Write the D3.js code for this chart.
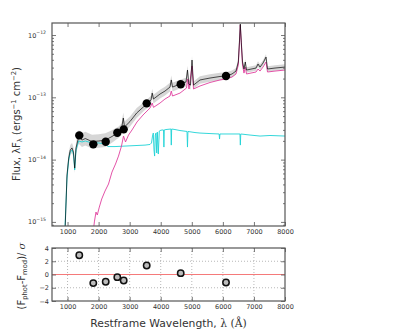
<!DOCTYPE html>
<html>
<head>
<meta charset="utf-8">
<script src="https://cdn.jsdelivr.net/npm/d3@7"></script>
<style>
  body { margin: 0; background: #fff; }
  text { font-family: "DejaVu Sans", sans-serif; fill: #333; }
</style>
</head>
<body>
<div id="sed"></div>
<script>
//Photometry (restframe wavelength in A, flux in erg/s/cm2) and residuals
var photWave = [1378, 1829, 2229, 2602, 2808, 3548, 4643, 6101];
var photFlux = [2.45e-14, 1.76e-14, 1.94e-14, 2.70e-14, 3.06e-14, 8.0e-14, 1.62e-13, 2.20e-13];
var photResid = [2.9, -1.3, -1.1, -0.4, -0.9, 1.35, 0.2, -1.2];

//Total model: [wavelength, flux, half width of the grey band in dex]
var modelTotal = [
  [915, 6e-16, 0.08], [983, 5.66e-15, 0.08], [1038, 1.06e-14, 0.08], [1089, 1.43e-14, 0.08],
  [1144, 1.54e-14, 0.08], [1192, 1.32e-14, 0.08], [1231, 7.3e-15, 0.08], [1273, 1.54e-14, 0.09],
  [1359, 2.31e-14, 0.11], [1466, 2.06e-14, 0.11], [1572, 2.18e-14, 0.11], [1788, 1.95e-14, 0.11],
  [2003, 1.99e-14, 0.11], [2216, 2.06e-14, 0.11], [2431, 2.35e-14, 0.1], [2647, 2.77e-14, 0.09],
  [2737, 3.10e-14, 0.09], [2795, 4.65e-14, 0.09], [2834, 3.34e-14, 0.09], [3011, 4.09e-14, 0.08],
  [3226, 5.60e-14, 0.08], [3439, 6.99e-14, 0.07], [3548, 7.80e-14, 0.07], [3687, 9.05e-14, 0.07],
  [3726, 1.17e-13, 0.07], [3767, 9.39e-14, 0.07], [3977, 1.13e-13, 0.07], [4137, 1.26e-13, 0.07],
  [4298, 1.46e-13, 0.07], [4340, 1.90e-13, 0.07], [4379, 1.46e-13, 0.07], [4620, 1.63e-13, 0.07],
  [4813, 1.76e-13, 0.07], [4862, 2.74e-13, 0.07], [4904, 1.63e-13, 0.07], [4958, 1.57e-13, 0.07],
  [5007, 3.97e-13, 0.07], [5055, 1.57e-13, 0.06], [5264, 1.90e-13, 0.06], [5586, 2.04e-13, 0.06],
  [5908, 2.16e-13, 0.06], [6101, 2.20e-13, 0.06], [6294, 2.37e-13, 0.055], [6423, 2.64e-13, 0.05],
  [6497, 3.69e-13, 0.05], [6536, 8.3e-13, 0.05], [6561, 1.50e-12, 0.05], [6594, 7.7e-13, 0.05],
  [6632, 3.69e-13, 0.05], [6680, 2.85e-13, 0.045], [6722, 3.69e-13, 0.045], [6761, 2.74e-13, 0.045],
  [7067, 2.95e-13, 0.045], [7131, 3.42e-13, 0.045], [7196, 3.06e-13, 0.045], [7292, 3.55e-13, 0.045],
  [7389, 4.43e-13, 0.045], [7437, 2.85e-13, 0.045], [7678, 2.95e-13, 0.045], [8000, 3.06e-13, 0.045]
];

//Host galaxy component
var modelHost = [
  [1840, 8.0e-16], [1868, 1.03e-15], [1916, 1.44e-15], [1958, 1.29e-15], [2023, 1.73e-15],
  [2100, 2.33e-15], [2206, 3.13e-15], [2319, 4.06e-15], [2431, 6.32e-15], [2544, 8.49e-15],
  [2641, 1.14e-14], [2737, 1.65e-14], [2802, 2.39e-14], [2866, 1.92e-14], [2963, 2.48e-14],
  [3075, 2.99e-14], [3236, 4.02e-14], [3429, 5.20e-14], [3655, 6.73e-14], [3726, 8.10e-14],
  [3767, 6.9e-14], [3977, 8.10e-14], [4137, 9.39e-14], [4298, 1.05e-13], [4340, 1.26e-13],
  [4379, 1.05e-13], [4620, 1.17e-13], [4830, 1.41e-13], [4862, 1.97e-13], [4910, 1.36e-13],
  [5007, 3.18e-13], [5055, 1.36e-13], [5264, 1.52e-13], [5586, 1.73e-13], [5908, 1.90e-13],
  [6101, 1.97e-13], [6294, 2.12e-13], [6423, 2.37e-13], [6497, 3.30e-13], [6536, 7.72e-13],
  [6561, 1.45e-12], [6594, 7.18e-13], [6632, 3.30e-13], [6680, 2.45e-13], [6722, 3.06e-13],
  [6761, 2.37e-13], [7067, 2.55e-13], [7131, 2.85e-13], [7196, 2.64e-13], [7292, 3.06e-13],
  [7389, 3.69e-13], [7437, 2.55e-13], [7678, 2.64e-13], [8000, 2.74e-13]
];

//Stellar / cyan component
var modelStar = [
  [918, 8e-16], [983, 5.07e-15], [1038, 9.86e-15], [1089, 1.32e-14], [1144, 1.43e-14],
  [1192, 1.23e-14], [1231, 6.81e-15], [1273, 1.43e-14], [1359, 1.99e-14], [1466, 1.92e-14],
  [1572, 1.99e-14], [1788, 1.85e-14], [2003, 1.85e-14], [2216, 1.78e-14], [2303, 1.62e-14],
  [2528, 1.62e-14], [2850, 1.65e-14], [3172, 1.68e-14], [3494, 1.71e-14], [3655, 1.75e-14],
  [3703, 1.85e-14], [3735, 2.39e-14], [3761, 2.67e-14], [3783, 1.43e-14], [3803, 1.14e-14],
  [3825, 2.48e-14], [3848, 2.67e-14], [3870, 1.28e-14], [3890, 2.77e-14], [3922, 1.23e-14],
  [3954, 2.88e-14], [3977, 2.93e-14], [4041, 2.99e-14], [4090, 2.99e-14], [4102, 1.59e-14],
  [4114, 3.0e-14], [4169, 3.04e-14], [4328, 3.10e-14], [4340, 1.71e-14], [4352, 3.10e-14],
  [4459, 3.04e-14], [4620, 2.93e-14], [4846, 2.83e-14], [4861, 1.59e-14], [4876, 2.83e-14],
  [5103, 2.72e-14], [5264, 2.67e-14], [5586, 2.62e-14], [5880, 2.58e-14], [5893, 2.14e-14],
  [5906, 2.58e-14], [6230, 2.58e-14], [6550, 2.58e-14], [6563, 1.71e-14], [6576, 2.58e-14],
  [6874, 2.48e-14], [7196, 2.39e-14], [7517, 2.44e-14], [8000, 2.39e-14]
];

var xTicks = [1000, 2000, 3000, 4000, 5000, 6000, 7000, 8000];
var yTicks = [1e-15, 1e-14, 1e-13, 1e-12];
var yTickExp = ["-15", "-14", "-13", "-12"];
var rTicks = [-4, -2, 0, 2, 4];

//Sizes
var width = 395,
  height = 336;
var left = 52, right = 285;
var topY0 = 23, topY1 = 226, botY0 = 248, botY1 = 301;

var x = d3.scaleLinear().domain([500, 8000]).range([left, right]);
var y = d3.scaleLog().domain([8.6e-16, 1.56e-12]).range([topY1, topY0]);
var yr = d3.scaleLinear().domain([-4, 4]).range([botY1, botY0]);

var svg = d3
  .select("#sed")
  .append("svg")
  .attr("width", width)
  .attr("height", height);

svg.append("defs").append("clipPath").attr("id", "clipTop")
  .append("rect")
  .attr("x", left).attr("y", topY0)
  .attr("width", right - left).attr("height", topY1 - topY0);

var plot = svg.append("g").attr("clip-path", "url(#clipTop)");

//grey uncertainty band
plot.append("path")
  .datum(modelTotal)
  .attr("fill", "#c4c4c4")
  .attr("opacity", 0.7)
  .attr("d", d3.area()
    .x(function (d) { return x(d[0]); })
    .y0(function (d) { return y(d[1] / Math.pow(10, d[2])); })
    .y1(function (d) { return y(d[1] * Math.pow(10, d[2])); }));

var line = d3.line()
  .x(function (d) { return x(d[0]); })
  .y(function (d) { return y(d[1]); });

plot.append("path").datum(modelStar)
  .attr("fill", "none").attr("stroke", "#1ed2d6").attr("stroke-width", 0.9)
  .attr("d", line);

plot.append("path").datum(modelHost)
  .attr("fill", "none").attr("stroke", "#e0409e").attr("stroke-width", 0.9)
  .attr("d", line);

plot.append("path").datum(modelTotal)
  .attr("fill", "none").attr("stroke", "#000").attr("stroke-width", 0.8)
  .attr("opacity", 0.85)
  .attr("d", line);

plot.selectAll("circle.phot")
  .data(photWave)
  .enter()
  .append("circle")
  .attr("class", "phot")
  .attr("cx", function (d) { return x(d); })
  .attr("cy", function (d, i) { return y(photFlux[i]); })
  .attr("r", 4.2)
  .attr("fill", "#000");

//residual panel: grid, zero line, points
var resid = svg.append("g");
resid.selectAll("line.gx")
  .data(xTicks.slice(0, -1))
  .enter()
  .append("line")
  .attr("x1", function (d) { return x(d); })
  .attr("x2", function (d) { return x(d); })
  .attr("y1", botY0).attr("y2", botY1)
  .attr("stroke", "#999").attr("stroke-width", 0.7).attr("stroke-dasharray", "1,2");
resid.selectAll("line.gy")
  .data([-2, 2])
  .enter()
  .append("line")
  .attr("x1", left).attr("x2", right)
  .attr("y1", function (d) { return yr(d); })
  .attr("y2", function (d) { return yr(d); })
  .attr("stroke", "#999").attr("stroke-width", 0.7).attr("stroke-dasharray", "1,2");
resid.append("line")
  .attr("x1", left).attr("x2", right)
  .attr("y1", yr(0)).attr("y2", yr(0))
  .attr("stroke", "#f04040").attr("stroke-width", 0.7);

resid.selectAll("circle")
  .data(photWave)
  .enter()
  .append("circle")
  .attr("cx", function (d) { return x(d); })
  .attr("cy", function (d, i) { return yr(photResid[i]); })
  .attr("r", 3.2)
  .attr("fill", "#bcbcbc")
  .attr("stroke", "#111")
  .attr("stroke-width", 1.5);

//axes
function styleAxis(g) {
  g.select(".domain").remove();
  g.selectAll(".tick line").attr("stroke", "#555").attr("stroke-width", 0.8);
  g.selectAll(".tick text").attr("font-size", 6.5).attr("fill", "#333");
}

[[topY1, topY0], [botY1, botY0]].forEach(function (p) {
  svg.append("g")
    .attr("transform", "translate(0," + p[0] + ")")
    .call(d3.axisBottom(x).tickValues(xTicks).tickSize(-4).tickPadding(3).tickFormat(d3.format("d")))
    .call(styleAxis);
  svg.append("g")
    .attr("transform", "translate(0," + p[1] + ")")
    .call(d3.axisTop(x).tickValues(xTicks).tickSize(-4).tickFormat(""))
    .call(styleAxis);
});

var minor = y.ticks().filter(function (t) {
  return yTicks.indexOf(t) < 0;
});

svg.append("g").attr("transform", "translate(" + left + ",0)")
  .call(d3.axisLeft(y).tickValues(yTicks).tickSize(-4).tickFormat(""))
  .call(styleAxis);
svg.append("g").attr("transform", "translate(" + left + ",0)")
  .call(d3.axisLeft(y).tickValues(minor).tickSize(-2).tickFormat(""))
  .call(styleAxis);
svg.append("g").attr("transform", "translate(" + right + ",0)")
  .call(d3.axisRight(y).tickValues(yTicks).tickSize(-4).tickFormat(""))
  .call(styleAxis);
svg.append("g").attr("transform", "translate(" + right + ",0)")
  .call(d3.axisRight(y).tickValues(minor).tickSize(-2).tickFormat(""))
  .call(styleAxis);

//log tick labels 10^n
var ylab = svg.append("g").selectAll("text")
  .data(yTicks)
  .enter()
  .append("text")
  .attr("x", left - 6)
  .attr("y", function (d) { return y(d) + 2.5; })
  .attr("text-anchor", "end")
  .attr("font-size", 6.5);
ylab.append("tspan").text("10");
ylab.append("tspan")
  .attr("dy", -3.5)
  .attr("font-size", 4.6)
  .text(function (d, i) { return yTickExp[i].replace("-", "\u2212"); });

svg.append("g").attr("transform", "translate(" + left + ",0)")
  .call(d3.axisLeft(yr).tickValues(rTicks).tickSize(-4).tickPadding(3)
    .tickFormat(function (d) { return String(d).replace("-", "\u2212"); }))
  .call(styleAxis);
svg.append("g").attr("transform", "translate(" + right + ",0)")
  .call(d3.axisRight(yr).tickValues(rTicks).tickSize(-4).tickFormat(""))
  .call(styleAxis);

//frames
[[topY0, topY1], [botY0, botY1]].forEach(function (p) {
  svg.append("rect")
    .attr("x", left).attr("y", p[0])
    .attr("width", right - left).attr("height", p[1] - p[0])
    .attr("fill", "none").attr("stroke", "#555").attr("stroke-width", 1.2);
});

//axis labels
var yl = svg.append("text")
  .attr("transform", "translate(20,124) rotate(-90)")
  .attr("text-anchor", "middle")
  .attr("font-size", 10);
yl.append("tspan").text("Flux, \u03bbF");
yl.append("tspan").attr("font-size", 6.8).attr("dy", 2).text("\u03bb");
yl.append("tspan").attr("dy", -2).text(" (ergs");
yl.append("tspan").attr("font-size", 6.8).attr("dy", -4).text("\u22121");
yl.append("tspan").attr("dy", 4).text(" cm");
yl.append("tspan").attr("font-size", 6.8).attr("dy", -4).text("\u22122");
yl.append("tspan").attr("dy", 4).text(")");

var rl = svg.append("text")
  .attr("transform", "translate(25,276) rotate(-90)")
  .attr("text-anchor", "middle")
  .attr("font-size", 10);
rl.append("tspan").text("(F");
rl.append("tspan").attr("font-size", 6.8).attr("dy", 2).text("phot");
rl.append("tspan").attr("dy", -2).text("-F");
rl.append("tspan").attr("font-size", 6.8).attr("dy", 2).text("mod");
rl.append("tspan").attr("dy", -2).text(")/ ");
rl.append("tspan").attr("font-family", "DejaVu Serif").attr("font-style", "italic").text("\u03c3");

var xl = svg.append("text")
  .attr("x", (left + right) / 2)
  .attr("y", 327)
  .attr("text-anchor", "middle")
  .attr("font-size", 10.8);
xl.append("tspan").text("Restframe Wavelength, ");
xl.append("tspan").attr("font-family", "DejaVu Serif").text("\u03bb (\u00c5)");
</script>
</body>
</html>
